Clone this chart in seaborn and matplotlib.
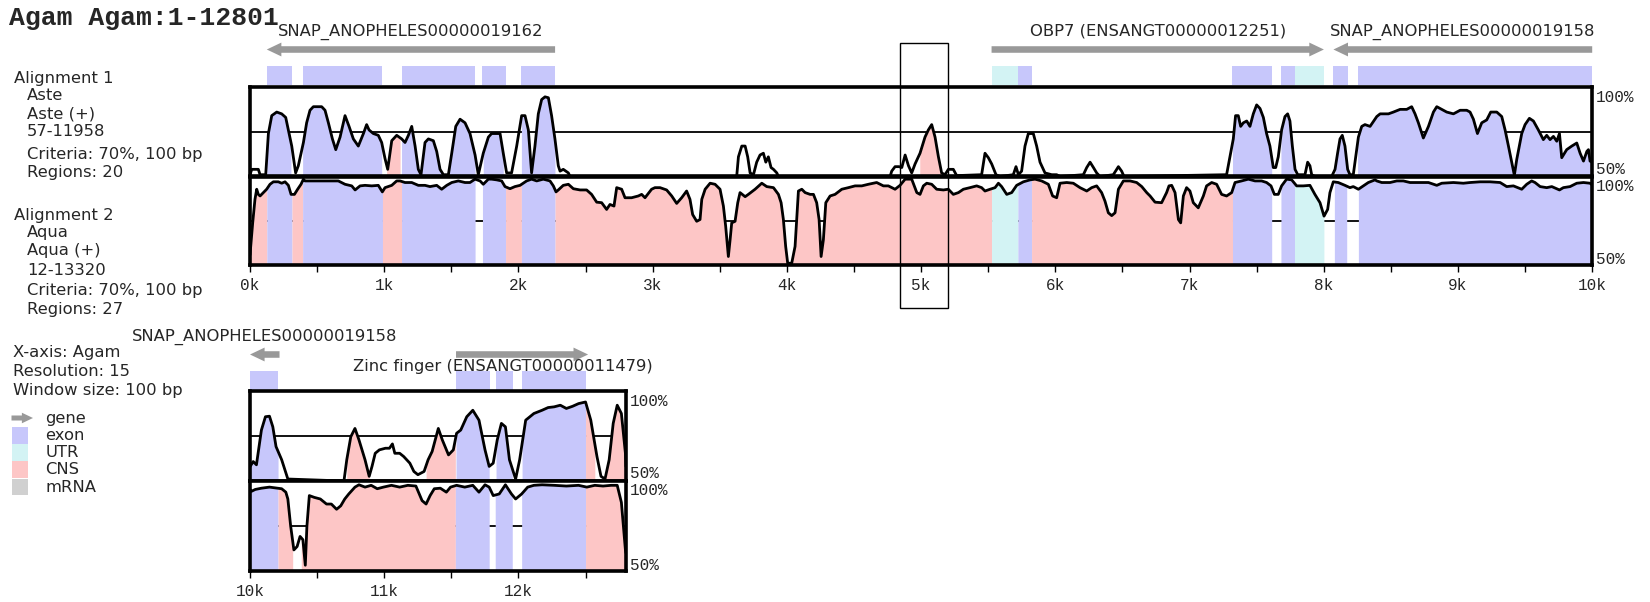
import numpy as np
import pandas as pd
import matplotlib
matplotlib.use("Agg")
import matplotlib.pyplot as plt
import matplotlib.transforms as mtransforms
from matplotlib.patches import Rectangle
import seaborn as sns

# ---------------- annotation of the Agam sequence (bp) ----------------
gene_names = ["SNAP_ANOPHELES00000019162", "OBP7 (ENSANGT00000012251)",
              "SNAP_ANOPHELES00000019158", "Zinc finger (ENSANGT00000011479)"]
gene_starts = [125, 5525, 8072, 11535]
gene_ends = [2273, 8001, 10220, 12519]
gene_strands = ["-", "+", "-", "+"]
gene_label_rows = ["above", "above", "above", "below"]
gene_label_shift = [0, 0, 0, -140]

feature_starts = [125, 392, 1129, 1732, 2022, 5525, 5721, 7320, 7680, 7782, 8072, 8252,
                  11535, 11833, 12027]
feature_ends = [313, 987, 1677, 1904, 2273, 5721, 5823, 7618, 7782, 8001, 8182, 10209,
                11788, 11960, 12504]
feature_kinds = ["exon", "exon", "exon", "exon", "exon", "UTR", "exon", "exon", "exon", "UTR",
                 "exon", "exon", "exon", "exon", "exon"]

# conserved regions (criteria 70%, 100 bp)
a1_reg_starts = [125, 392, 1018, 1129, 1738, 2022, 4990, 7320, 7681, 8084, 8252,
                 10721, 11312, 11535, 11833, 12027, 12500, 12645]
a1_reg_ends = [305, 981, 1118, 1677, 1887, 2272, 5160, 7612, 7780, 8182, 10209,
               10888, 11530, 11782, 11954, 12500, 12569, 12801]
a1_reg_kinds = ["exon", "exon", "CNS", "exon", "exon", "exon", "CNS", "exon", "exon", "exon", "exon",
                "CNS", "CNS", "exon", "exon", "exon", "CNS", "CNS"]

a2_reg_starts = [0, 125, 313, 392, 987, 1129, 1732, 1904, 2022, 2273, 5525, 5721, 5823,
                 7320, 7681, 7782, 8079, 8258, 10209, 10382, 11530, 11827, 12024, 12500]
a2_reg_ends = [125, 313, 392, 987, 1129, 1677, 1904, 2022, 2273, 5525, 5721, 5823, 7320,
               7612, 7782, 8001, 8171, 10209, 10318, 11530, 11782, 11954, 12500, 12801]
a2_reg_kinds = ["CNS", "exon", "CNS", "exon", "CNS", "exon", "exon", "CNS", "exon", "CNS", "UTR", "exon", "CNS",
                "exon", "exon", "UTR", "exon", "exon", "CNS", "CNS", "exon", "exon", "exon", "CNS"]

# ---------------- conservation curves (% identity, 100 bp window) ----------------
a1_pos = [0, 13, 62, 75, 117, 137, 162, 199, 236, 266, 286, 311, 340, 360, 398, 422, 447, 472,
          534, 559, 584, 614, 639, 671, 708, 738, 770, 807, 845, 869, 887, 919, 956, 981,
          1006, 1026, 1056, 1093, 1130, 1155, 1180, 1205, 1230, 1254, 1274, 1304, 1329, 1366,
          1391, 1416, 1441, 1478, 1503, 1533, 1565, 1602, 1639, 1677, 1701, 1738, 1776, 1800,
          1863, 1887, 1912, 1949, 1987, 2024, 2049, 2074, 2098, 2123, 2148, 2173, 2198, 2223,
          2247, 2272, 2297, 2310, 2334, 2372, 2384, 3626, 3639, 3664, 3689, 3708, 3726, 3751,
          3775, 3800, 3825, 3843, 3862, 3882, 3900, 3925, 3937, 4769, 4781, 4806, 4836, 4856,
          4881, 4906, 4930, 4955, 4992, 5029, 5054, 5079, 5104, 5129, 5153, 5178, 5203, 5240,
          5265, 5451, 5476, 5501, 5526, 5558, 5588, 5687, 5707, 5725, 5749, 5774, 5799, 5836,
          5861, 5886, 5923, 5973, 6010, 6035, 6209, 6234, 6259, 6284, 6308, 6333, 6432, 6470,
          6494, 6512, 7276, 7301, 7326, 7343, 7363, 7381, 7401, 7426, 7450, 7475, 7500, 7525,
          7550, 7574, 7599, 7624, 7642, 7661, 7686, 7711, 7731, 7748, 7766, 7786, 7806, 7835,
          7860, 7880, 7897, 7910, 7934, 8059, 8084, 8103, 8121, 8138, 8158, 8178, 8195, 8220,
          8238, 8258, 8283, 8307, 8345, 8382, 8395, 8420, 8444, 8482, 8519, 8569, 8618, 8655,
          8680, 8705, 8742, 8780, 8817, 8842, 8879, 8916, 8966, 9016, 9065, 9090, 9115, 9145,
          9177, 9214, 9244, 9289, 9326, 9351, 9376, 9400, 9420, 9438, 9475, 9500, 9532, 9562,
          9599, 9636, 9661, 9686, 9711, 9736, 9756, 9773, 9810, 9848, 9885, 9910, 9935, 9960,
          9972, 9984, 10000, 10024, 10048, 10085, 10115, 10145, 10170, 10194, 10236, 10282,
          10700, 10721, 10751, 10782, 10812, 10857, 10888, 10909, 10933, 10964, 11009, 11039,
          11061, 11079, 11115, 11145, 11191, 11221, 11251, 11297, 11327, 11357, 11403, 11433,
          11479, 11515, 11539, 11570, 11615, 11660, 11706, 11751, 11782, 11812, 11842, 11873,
          11903, 11933, 11979, 12009, 12054, 12115, 12176, 12221, 12266, 12312, 12357, 12403,
          12448, 12500, 12539, 12585, 12615, 12645, 12676, 12706, 12736, 12767, 12797, 12801]
a1_pct = [51, 54, 54, 51, 51, 74, 84, 86, 85, 83, 76, 67, 52, 56, 69, 80, 87, 89,
          89, 87, 80, 71, 65, 72, 84, 78, 71, 67, 74, 79, 76, 74, 73, 69,
          60, 54, 70, 73, 71, 69, 73, 78, 67, 54, 51, 69, 71, 70,
          64, 54, 51, 51, 63, 78, 82, 80, 74, 62, 51, 63, 72, 74,
          74, 63, 52, 52, 67, 84, 84, 76, 52, 67, 85, 93, 94.5, 94,
          84, 71, 56, 53, 54, 52, 50, 50, 61, 67, 67, 61, 52, 51,
          58, 62, 63, 58, 61, 55, 54, 52, 50, 50, 53, 55.5, 55.5, 55,
          62, 56, 52, 57, 63, 72, 76, 79, 72, 61, 52, 51, 54, 54,
          50.5, 51, 63, 60.5, 57, 51, 50, 51, 55.5, 51, 53, 67, 74, 74,
          67, 58, 52, 51, 51, 50, 51, 55, 58, 55, 52, 50, 51, 55.5,
          53, 50, 51, 61, 71, 84, 84, 78, 80, 81, 78, 85, 90, 88,
          83, 74, 67, 55, 55, 61, 76, 83.5, 85, 81, 67, 54, 51, 51,
          51, 58, 56, 51, 50, 50, 54, 63, 71, 73, 67, 54, 51, 51,
          61, 72, 78, 79, 78, 82, 83.5, 85, 85, 85, 86, 87.5, 87.5, 89,
          85, 80, 71.5, 78, 86, 89, 87.5, 86, 85, 87, 87, 86, 82, 74,
          80, 81.6, 86, 86, 83.5, 76, 67, 58, 50.7, 59.6, 74, 79, 82.5, 81,
          76, 70.6, 73, 70.6, 72.4, 69.7, 74, 60.5, 65, 67, 68.7, 63, 58.6, 64,
          65, 58.6, 58, 60.8, 59, 78.3, 85.7, 86, 80.1, 69.1, 61.8, 51.1,
          50, 61.8, 74.6, 79.2, 72.8, 61.8, 52.6, 58.1, 65.4, 67.3, 68.2, 68.2,
          70.6, 65.4, 65.4, 63.6, 59.9, 55.3, 53.5, 55.3, 61.8, 66.4, 79.2, 72.8,
          64.5, 67.3, 76.5, 78.3, 85.7, 89.3, 83.8, 67.3, 58.1, 59.9, 72.8, 82,
          80.1, 61.8, 51.1, 61.8, 83.8, 87.5, 89.3, 90.8, 91.2, 92.1, 90.3, 91.5,
          93, 93.9, 83.8, 63.6, 52.6, 51.1, 61.8, 82, 92.1, 87.5, 65.4, 58.1]

a2_pos = [0, 20, 37, 50, 62, 75, 100, 124, 149, 174, 211, 236, 261, 286, 306, 331, 355, 380,
          398, 410, 460, 560, 658, 708, 758, 783, 820, 857, 907, 956, 986, 1006, 1056, 1093,
          1118, 1155, 1205, 1254, 1304, 1341, 1391, 1428, 1466, 1503, 1552, 1602, 1639, 1676,
          1714, 1738, 1776, 1800, 1838, 1875, 1900, 1937, 1974, 2012, 2061, 2098, 2136, 2185,
          2235, 2260, 2280, 2297, 2334, 2372, 2409, 2459, 2508, 2545, 2583, 2620, 2657, 2682,
          2712, 2732, 2769, 2794, 2843, 2893, 2918, 2943, 2992, 3017, 3055, 3104, 3142, 3179,
          3216, 3253, 3278, 3298, 3328, 3353, 3366, 3391, 3428, 3465, 3502, 3527, 3544, 3564,
          3577, 3589, 3614, 3634, 3651, 3689, 3713, 3763, 3813, 3850, 3900, 3937, 3957, 3974,
          3991, 4006, 4036, 4061, 4086, 4111, 4136, 4173, 4198, 4222, 4240, 4255, 4272, 4290,
          4322, 4359, 4409, 4458, 4508, 4558, 4607, 4669, 4719, 4756, 4806, 4843, 4881, 4930,
          4968, 4992, 5017, 5042, 5079, 5116, 5166, 5203, 5240, 5278, 5315, 5364, 5414, 5451,
          5476, 5514, 5551, 5576, 5600, 5638, 5675, 5712, 5762, 5812, 5849, 5898, 5948, 5980,
          6010, 6035, 6085, 6134, 6184, 6234, 6271, 6308, 6345, 6370, 6395, 6420, 6445, 6470,
          6507, 6557, 6606, 6644, 6681, 6706, 6743, 6792, 6829, 6847, 6867, 6892, 6917, 6934,
          6954, 6978, 7003, 7028, 7065, 7103, 7127, 7165, 7202, 7239, 7276, 7314, 7339, 7388,
          7438, 7488, 7537, 7574, 7607, 7632, 7661, 7686, 7723, 7761, 7798, 7848, 7897, 7934,
          7972, 8002, 8029, 8046, 8071, 8108, 8158, 8195, 8220, 8258, 8295, 8332, 8382, 8395,
          8432, 8494, 8544, 8593, 8643, 8718, 8780, 8842, 8879, 8966, 9040, 9090, 9165, 9239,
          9314, 9363, 9413, 9475, 9512, 9549, 9574, 9612, 9661, 9699, 9756, 9785, 9835, 9885,
          9935, 9984, 10004, 10009, 10039, 10085, 10145, 10206, 10236, 10267, 10282, 10303,
          10327, 10351, 10373, 10394, 10412, 10424, 10442, 10479, 10524, 10570, 10606, 10645,
          10676, 10706, 10736, 10782, 10812, 10857, 10903, 10948, 10994, 11054, 11115, 11176,
          11236, 11282, 11312, 11342, 11373, 11418, 11463, 11494, 11539, 11600, 11660, 11706,
          11751, 11782, 11812, 11857, 11903, 11948, 11979, 12024, 12069, 12115, 12176, 12266,
          12357, 12448, 12509, 12569, 12630, 12691, 12736, 12767, 12797, 12801]
a2_pct = [55.7, 73.8, 87.1, 92.8, 89.9, 89, 90.9, 92.8, 95.6, 97, 97, 96.2, 97, 95, 89.9, 89.9, 92.8, 95.6,
          98.5, 97.5, 97.5, 97.5, 97.5, 95.6, 94.7, 92.4, 94.7, 95, 94.7, 95, 91.3, 93.7, 95, 97.5,
          97.5, 96.6, 96.6, 95, 95, 94.3, 95, 92.8, 95, 96.6, 97.5, 96.6, 96.6, 98.5,
          97.5, 95.6, 98.5, 98.5, 98.1, 97.5, 94.3, 93.1, 94.3, 95, 97.5, 98.5, 97.5, 98.5,
          97.5, 94.7, 91.3, 92.4, 95, 95.6, 93.1, 92.4, 92.4, 89.9, 85.5, 85.2, 81.4, 84.2,
          83.3, 93.7, 92.8, 88, 88, 89, 89.9, 88, 92.8, 93.7, 93.7, 92.4, 89, 84.8,
          88, 91.8, 87.1, 78.5, 74.7, 75.7, 87.1, 92.8, 96.2, 95.6, 92.8, 83.3, 71.9, 54.8,
          64.3, 73.8, 74.7, 85.2, 90.9, 88.6, 89.9, 92.8, 96.2, 94.3, 93.7, 89.9, 85.2, 75.7,
          60.5, 51, 51, 60.5, 91.8, 92.8, 90.9, 89.9, 89.9, 85.2, 75.7, 54.8, 64.3, 85.2,
          89, 89.9, 92.8, 93.7, 94.7, 94.7, 95.6, 96.6, 94.7, 94.7, 92.8, 95, 98.5, 98.5,
          90.9, 89.9, 94.7, 96.2, 95.6, 92.8, 92.4, 92.8, 89.9, 90.9, 92.8, 93.7, 94.7, 93.7,
          91.8, 92.8, 93.7, 96.2, 94.3, 89.9, 90.9, 95, 97, 98.1, 98.5, 97.5, 95.6, 89,
          88, 96.2, 96.6, 96.2, 93.7, 91.8, 93.7, 94.7, 90.9, 86.1, 79.5, 77.9, 79.5, 92.8,
          97.5, 97.5, 96.6, 94.3, 90.9, 89, 85.5, 85.2, 90.9, 94.7, 95, 90.9, 75.7, 73.8,
          89, 93.7, 91.8, 85.2, 82.3, 89, 94.7, 96.6, 95.6, 89.9, 89, 90.9, 96.6, 97.5,
          98.5, 97.5, 97.5, 96.6, 94.7, 89.9, 89.9, 94.7, 98.5, 98.1, 94.7, 94.7, 95, 89.9,
          85.2, 77.6, 81.4, 90.9, 97, 96.6, 95, 93.7, 94.3, 92.8, 94.7, 96.6, 98.1, 97.5,
          96.6, 96.6, 97.5, 97.5, 96.6, 96.6, 96.6, 95, 96.2, 96.6, 96.2, 96.6, 97, 97,
          96.6, 94.3, 94.7, 92.8, 95.6, 97.5, 96.6, 94.3, 93.7, 94.3, 92.4, 93.7, 94.3, 96.2,
          96.6, 96.2, 95, 94.2, 95.3, 96, 96.6, 96, 95.7, 93.8, 90, 74.9,
          61.7, 63.6, 69.2, 67.4, 53.2, 74.9, 91.9, 90.9, 90, 87.2, 87.2, 84.3,
          86.2, 90, 92.8, 96.6, 97.9, 96.6, 97.6, 95.7, 96.6, 97.6, 96.6, 97.6,
          97.2, 89.1, 87.2, 91.9, 95.7, 96, 93.8, 96.6, 97.6, 96.6, 97.6, 93.8,
          97.9, 96.6, 91.9, 92.8, 97.9, 92.8, 90, 92.8, 96.6, 97.6, 97.9, 97.6,
          97.2, 97.6, 96.6, 97.6, 97.2, 97.6, 97.6, 88.1, 61.7, 60]

selected_window = (4843, 5204)
panel_ranges = [(0, 10000), (10000, 12801)]
tick_labels_top = ["0k", "1k", "2k", "3k", "4k", "5k", "6k", "7k", "8k", "9k", "10k"]
tick_labels_bottom = ["10k", "11k", "12k"]
legend_labels = ["gene", "exon", "UTR", "CNS", "mRNA"]

left_block_1 = ["Alignment 1", "Aste", "Aste (+)", "57-11958", "Criteria: 70%, 100 bp", "Regions: 20"]
left_block_2 = ["Alignment 2", "Aqua", "Aqua (+)", "12-13320", "Criteria: 70%, 100 bp", "Regions: 27"]
left_block_3 = ["X-axis: Agam", "Resolution: 15", "Window size: 100 bp"]

# ---------------- style ----------------
COLORS = {"exon": "#c7c7fb", "UTR": "#d3f3f4", "CNS": "#fdc6c6", "mRNA": "#d0d0d0", "gene": "#999999"}
SANS = "DejaVu Sans"
MONO = "Liberation Mono"
FS = 11.8
MONO_FS = 11.5

sns.set_style("white")
plt.rcParams["font.family"] = [SANS]

W, H = 1650, 602
fig = plt.figure(figsize=(W / 100, H / 100), dpi=100)

PX_PER_BP = 0.13422
X0 = 250


def px_axes(x0, y0, x1, y1):
    return fig.add_axes([x0 / W, 1 - y1 / H, (x1 - x0) / W, (y1 - y0) / H])


def ftext(x, y, s, **kw):
    kw.setdefault("fontsize", FS)
    kw.setdefault("va", "center")
    kw.setdefault("ha", "left")
    return fig.text(x / W, 1 - y / H, s, **kw)


def gene_arrow(ax, tail, head, y, scale=10.5):
    ax.annotate("", xy=(head, y), xytext=(tail, y),
                arrowprops=dict(arrowstyle="simple,head_length=1.0,head_width=0.95,tail_width=0.45",
                                mutation_scale=scale, color=COLORS["gene"], lw=0,
                                shrinkA=0, shrinkB=0))


def draw_track(ax, pos, pct, rs, re_, rk, lo, hi):
    ax.set_xlim(lo, hi)
    ax.set_ylim(50, 100)
    ax.axhline(75, color="black", lw=1.3, zorder=1)
    for s, e, k in zip(rs, re_, rk):
        s2, e2 = max(s, lo), min(e, hi)
        if e2 <= s2:
            continue
        xs = np.linspace(s2, e2, 400)
        ax.fill_between(xs, 50, np.interp(xs, pos, pct), color=COLORS[k], lw=0, zorder=2)
    df = pd.DataFrame({"pos": pos, "pct": pct})
    sns.lineplot(data=df, x="pos", y="pct", ax=ax, color="black", linewidth=2.0,
                 estimator=None, sort=False, zorder=3)
    ax.set_xlabel("")
    ax.set_ylabel("")
    for sp in ax.spines.values():
        sp.set_visible(True)
        sp.set_linewidth(2.6)
        sp.set_color("black")
        sp.set_zorder(4)
    ax.set_yticks([])


def pct_labels(ax, top_off, bot_off):
    t_top = mtransforms.offset_copy(ax.transAxes, fig=fig, x=4, y=-top_off, units="dots")
    t_bot = mtransforms.offset_copy(ax.transAxes, fig=fig, x=4, y=bot_off, units="dots")
    ax.text(1, 1, "100%", transform=t_top, ha="left", va="center", fontsize=MONO_FS, family=MONO)
    ax.text(1, 0, "50%", transform=t_bot, ha="left", va="center", fontsize=MONO_FS, family=MONO)


panel_layout = [
    dict(ann=(20, 86), t1=(87, 176.5), t2=(176.5, 265), labels=tick_labels_top),
    dict(ann=(325, 391), t1=(391, 481), t2=(481, 571), labels=tick_labels_bottom),
]

track_axes = []
for (lo, hi), lay in zip(panel_ranges, panel_layout):
    xr = X0 + (hi - lo) * PX_PER_BP
    a0, a1 = lay["ann"]
    ann = px_axes(X0, a0, xr, a1)
    ann.set_xlim(lo, hi)
    ann.set_ylim(a1, a0)
    ann.axis("off")
    # exon / UTR boxes
    for s, e, k in zip(feature_starts, feature_ends, feature_kinds):
        s2, e2 = max(s, lo), min(e, hi)
        if e2 > s2:
            ann.broken_barh([(s2, e2 - s2)], (a1 - 20, 19), facecolors=COLORS[k], lw=0)
    # genes
    for name, s, e, strand, row, shift in zip(gene_names, gene_starts, gene_ends, gene_strands,
                                              gene_label_rows, gene_label_shift):
        s2, e2 = max(s, lo), min(e, hi)
        if e2 <= s2:
            continue
        y_arrow = a1 - 36.5
        if strand == "-":
            gene_arrow(ann, e2, s2, y_arrow)
        else:
            gene_arrow(ann, s2, e2, y_arrow)
        y_lab = a1 - 54.5 if row == "above" else a1 - 25
        ann.text((s2 + e2) / 2 + shift, y_lab, name, ha="center", va="center", fontsize=FS)

    ax1 = px_axes(X0, lay["t1"][0], xr, lay["t1"][1])
    ax2 = px_axes(X0, lay["t2"][0], xr, lay["t2"][1])
    draw_track(ax1, a1_pos, a1_pct, a1_reg_starts, a1_reg_ends, a1_reg_kinds, lo, hi)
    draw_track(ax2, a2_pos, a2_pct, a2_reg_starts, a2_reg_ends, a2_reg_kinds, lo, hi)
    ax1.set_xticks([])
    first_k = int(np.ceil(lo / 1000.0)) * 1000
    ax2.set_xticks(np.arange(first_k, hi + 1, 1000))
    ax2.set_xticklabels(lay["labels"], family=MONO, fontsize=MONO_FS)
    ax2.set_xticks(np.arange(first_k + 500, hi + 1, 1000), minor=True)
    ax2.tick_params(axis="x", which="both", direction="out", length=5, width=1.0,
                    color="black", pad=4, bottom=True)
    pct_labels(ax1, 10, 7)
    pct_labels(ax2, 9.5, 6)
    track_axes.append(ax1)

# selected window outline
blend = mtransforms.blended_transform_factory(track_axes[0].transData, fig.transFigure)
sel = Rectangle((selected_window[0], 1 - 308 / H), selected_window[1] - selected_window[0],
                (308 - 43) / H, transform=blend, fill=False, edgecolor="black", lw=1.0,
                zorder=10, clip_on=False)
fig.add_artist(sel)

# title and side texts
ftext(9, 18, "Agam Agam:1-12801", family=MONO, fontweight="bold", fontsize=19)
for i, (s, y) in enumerate(zip(left_block_1, [78, 96, 114, 132, 154, 172.5])):
    ftext(14 if i == 0 else 27, y, s)
for i, (s, y) in enumerate(zip(left_block_2, [215, 233, 251, 270.5, 291, 309.5])):
    ftext(14 if i == 0 else 27, y, s)
for s, y in zip(left_block_3, [352, 371.5, 391]):
    ftext(13, y, s)

# legend
leg = px_axes(0, 405, 200, 500)
leg.set_xlim(0, 200)
leg.set_ylim(500, 405)
leg.axis("off")
gene_arrow(leg, 11.5, 33, 418, scale=8)
for lab, y in zip(legend_labels, [418, 435.5, 452.5, 469.5, 487]):
    if lab != "gene":
        leg.add_patch(Rectangle((11.5, y - 8.2), 16.5, 16.4, facecolor=COLORS[lab], lw=0))
    leg.text(45.5, y, lab, ha="left", va="center", fontsize=FS)

fig.savefig("out.png", dpi=100)
